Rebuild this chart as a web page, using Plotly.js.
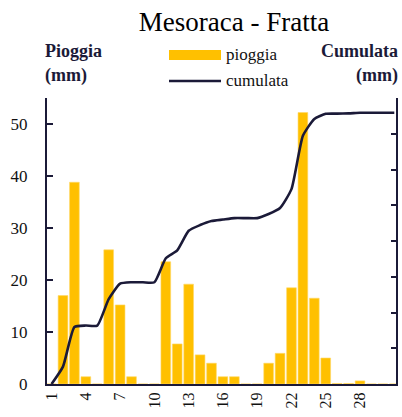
<!DOCTYPE html>
<html>
<head>
<meta charset="utf-8">
<script src="https://cdn.plot.ly/plotly-3.0.1.min.js"></script>
<style>html,body{margin:0;padding:0;background:#fff;}#chart{width:402px;height:417px;}</style>
</head>
<body>
<div id="chart"></div>
<script>
// Days of the month
const days = [];
for (let d = 1; d <= 31; d++) days.push(d);
// Daily rain (mm)
const pioggia = [0, 17.0, 38.8, 1.4, 0, 25.8, 15.2, 1.4, 0, 0,
                 23.5, 7.7, 19.2, 5.6, 4.0, 1.4, 1.4, 0, 0, 4.0,
                 5.9, 18.5, 52.2, 16.5, 5.0, 0.1, 0.1, 0.6, 0, 0, 0];
// Cumulative rain (mm)
const cumulata = [0, 17.0, 55.8, 57.2, 57.2, 83.0, 98.2, 99.6, 99.6, 99.6,
                  123.1, 130.8, 150.0, 155.6, 159.6, 161.0, 162.4, 162.4, 162.4, 166.4,
                  172.3, 190.8, 243.0, 259.5, 264.5, 264.7, 264.9, 265.5, 265.5, 265.5, 265.5];
const xTicks = [1, 4, 7, 10, 13, 16, 19, 22, 25, 28];
const yTicks = [0, 10, 20, 30, 40, 50];

const navy = '#1b1a38';
const gold = '#FFC000';
const serif = 'Liberation Serif, DejaVu Serif, serif';

const L = 47, R = 396, T = 98, B = 384;
const W = 402, H = 417;
const px = x => (x - L) / (R - L);
const py = y => (B - y) / (B - T);

const traces = [
  {type: 'bar', x: days, y: pioggia, name: 'pioggia', yaxis: 'y',
   marker: {color: gold, line: {color: '#ffd966', width: 0.6}}, hoverinfo: 'x+y'},
  {type: 'scatter', mode: 'lines', x: days, y: cumulata, name: 'cumulata', yaxis: 'y2',
   line: {color: navy, width: 2.6, shape: 'spline', smoothing: 0.5}}
];

const layout = {
  width: W, height: H,
  margin: {l: L, r: W - R, t: T, b: H - B, pad: 0},
  paper_bgcolor: '#fff', plot_bgcolor: '#fff',
  showlegend: false,
  bargap: 0.15,
  font: {family: serif, color: '#111'},
  title: {text: 'Mesoraca - Fratta', font: {family: serif, size: 27, color: '#000'},
          x: 234 / W, xanchor: 'center', xref: 'container',
          y: 1 - 22 / H, yanchor: 'middle', yref: 'container'},
  xaxis: {range: [0.6, 31.15], tickmode: 'array', tickvals: xTicks, ticktext: xTicks.map(String),
          tickangle: -90, ticks: '', showgrid: false, zeroline: false,
          showline: true, linecolor: navy, linewidth: 2,
          tickfont: {family: serif, size: 16, color: '#111'}},
  yaxis: {range: [0, 55], tickmode: 'array', tickvals: yTicks, ticks: 'inside', ticklen: 6,
          tickwidth: 2, tickcolor: navy, showgrid: false, zeroline: false,
          showline: true, linecolor: navy, linewidth: 2, ticklabelstandoff: 14,
          tickfont: {family: serif, size: 17, color: '#111'}},
  yaxis2: {range: [0, 280], dtick: 35, tick0: 0, overlaying: 'y', side: 'right',
           ticks: 'inside', ticklen: 5, tickwidth: 2, tickcolor: navy,
           showticklabels: false, showgrid: false, zeroline: false,
           showline: true, linecolor: navy, linewidth: 2},
  shapes: [
    {type: 'rect', xref: 'paper', yref: 'paper', x0: px(169), x1: px(221), y0: py(60), y1: py(50),
     fillcolor: gold, line: {width: 0}},
    {type: 'line', xref: 'paper', yref: 'paper', x0: px(169), x1: px(221), y0: py(81), y1: py(81),
     line: {color: navy, width: 2.6}}
  ],
  annotations: [
    {text: 'pioggia', xref: 'paper', yref: 'paper', x: px(224), y: py(54), xanchor: 'left', yanchor: 'middle',
     showarrow: false, font: {family: serif, size: 17, color: '#111'}},
    {text: 'cumulata', xref: 'paper', yref: 'paper', x: px(224), y: py(80), xanchor: 'left', yanchor: 'middle',
     showarrow: false, font: {family: serif, size: 17, color: '#111'}},
    {text: '<b>Pioggia</b>', xref: 'paper', yref: 'paper', x: px(43), y: py(51), xanchor: 'left', yanchor: 'middle',
     showarrow: false, font: {family: serif, size: 18, color: navy}},
    {text: '<b>(mm)</b>', xref: 'paper', yref: 'paper', x: px(43), y: py(75), xanchor: 'left', yanchor: 'middle',
     showarrow: false, font: {family: serif, size: 18, color: navy}},
    {text: '<b>Cumulata</b>', xref: 'paper', yref: 'paper', x: px(400), y: py(51), xanchor: 'right', yanchor: 'middle',
     showarrow: false, font: {family: serif, size: 18, color: navy}},
    {text: '<b>(mm)</b>', xref: 'paper', yref: 'paper', x: px(400), y: py(75), xanchor: 'right', yanchor: 'middle',
     showarrow: false, font: {family: serif, size: 18, color: navy}}
  ]
};

Plotly.newPlot('chart', traces, layout, {displayModeBar: false, staticPlot: true});
</script>
</body>
</html>
